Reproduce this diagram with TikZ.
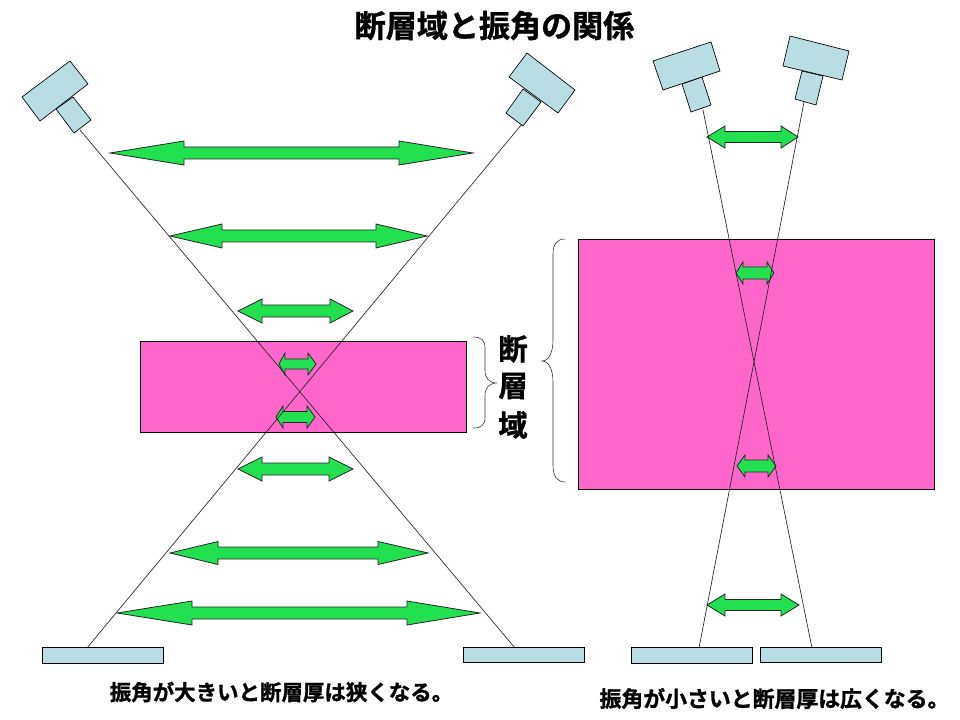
\documentclass[tikz,border=0pt]{standalone}
\usepackage{fontspec}
\newfontfamily\cjk{Noto Sans CJK JP}[BoldFont={Noto Sans CJK JP Bold},BoldFeatures={FakeBold=1.2}]
\definecolor{camblue}{RGB}{184,222,228}
\definecolor{faultpink}{RGB}{255,102,204}
\definecolor{arrowgreen}{RGB}{34,224,80}
\tikzset{
  cam/.style={draw=black,fill=camblue,line width=0.5pt},
  fault/.style={draw=black,fill=faultpink,line width=0.6pt},
  beam/.style={draw=black!85,line width=0.5pt},
  measure/.style={draw=black!85,fill=arrowgreen,line width=0.6pt,line join=miter},
  bracecurve/.style={draw=black!80,line width=0.45pt},
  caption/.style={font=\cjk\bfseries,inner sep=0pt,text=black},
}
% name, tip L, tip R, y, base L, base R, head half, shaft half
\newcommand{\dblarrow}[8]{%
  \draw[measure] (#2,#4) -- (#5,#4-#7) -- (#5,#4-#8) -- (#6,#4-#8) -- (#6,#4-#7)
    -- (#3,#4) -- (#6,#4+#7) -- (#6,#4+#8) -- (#5,#4+#8) -- (#5,#4+#7) -- cycle;
  \coordinate (#1) at ({(#2+#3)/2},#4);}
\begin{document}
\begin{tikzpicture}[x=0.75pt,y=-0.75pt]
\useasboundingbox (0,0) rectangle (960,720);
% fault zones
\draw[fault] (140,341) rectangle (466,432);
\draw[fault] (578,239) rectangle (934,489);
% endpoints of the beams
\coordinate (la) at (80,130);
\coordinate (lb) at (515,648);
\coordinate (ra) at (522,124);
\coordinate (rb) at (87,648);
\coordinate (na) at (703,110);
\coordinate (nb) at (812,648);
\coordinate (ma) at (804,102);
\coordinate (mb) at (699,648);
% arrows
\dblarrow{a1}{110}{473}{153}{184}{399}{12}{6}
\dblarrow{a2}{170}{427}{236}{222}{376}{12}{6}
\dblarrow{a3}{238}{353}{311}{262}{330}{12}{6}
\dblarrow{a4}{279}{316}{364}{285}{308}{11}{5}
\dblarrow{a5}{276}{315}{417}{283}{307}{11}{5.5}
\dblarrow{a6}{238}{353}{469}{262}{329}{12}{6}
\dblarrow{a7}{170}{428}{553}{218}{378}{11.5}{6}
\dblarrow{a8}{117}{480}{613}{192}{407}{12}{6}
\dblarrow{b1}{707}{798}{137}{725}{781}{11}{5.5}
\dblarrow{b2}{736}{774}{273}{743}{767}{11}{6}
\dblarrow{b3}{737}{776}{466}{745}{768}{11}{6}
\dblarrow{b4}{707}{799}{605}{725}{781}{11}{5.5}
% beams
\draw[beam] (la) -- (lb);
\draw[beam] (ra) -- (rb);
\draw[beam] (na) -- (nb);
\draw[beam] (ma) -- (mb);
% cameras
\draw[cam] (56,109) -- (73,97) -- (91,120) -- (74,133) -- cycle;
\draw[cam] (22,97) -- (70,61) -- (88,84) -- (40,121) -- cycle;
\draw[cam] (523,89) -- (541,102) -- (523,126) -- (506,113) -- cycle;
\draw[cam] (509,77) -- (527,53) -- (575,90) -- (558,113) -- cycle;
\draw[cam] (682,84) -- (702,77) -- (711,105) -- (691,112) -- cycle;
\draw[cam] (653,61) -- (711,42) -- (720,71) -- (663,90) -- cycle;
\draw[cam] (802,71) -- (823,76) -- (816,105) -- (795,99) -- cycle;
\draw[cam] (790,36) -- (849,51) -- (842,80) -- (783,66) -- cycle;
% detector bars
\draw[cam] (42,647) rectangle (163,663);
\draw[cam] (463,647) rectangle (584,662);
\draw[cam] (631,647) rectangle (752,663);
\draw[cam] (760,647) rectangle (881,662);
% braces
\draw[bracecurve] (473,337) .. controls (481,337) and (485,340) .. (485,348) -- (485,370)
  .. controls (485,378) and (489,383) .. (497,383)
  .. controls (489,383) and (485,388) .. (485,396) -- (485,418)
  .. controls (485,425) and (481,428) .. (473,428);
\draw[bracecurve] (565,239) .. controls (557,239) and (553,244) .. (553,254) -- (553,340)
  .. controls (553,352) and (549,361) .. (542,361)
  .. controls (549,361) and (553,370) .. (553,382) -- (553,465)
  .. controls (553,476) and (557,482) .. (565,482);
% texts
\node[caption,font=\cjk\bfseries\fontsize{23.3}{23.3}\selectfont] (title) at (494.5,25.5) {断層域と振角の関係};
\node[caption,font=\cjk\bfseries\fontsize{22}{22}\selectfont] (t1) at (513,349) {断};
\node[caption,font=\cjk\bfseries\fontsize{22}{22}\selectfont] (t2) at (513,386) {層};
\node[caption,font=\cjk\bfseries\fontsize{22}{22}\selectfont] (t3) at (513,425) {域};
\node[caption,font=\cjk\bfseries\fontsize{16.1}{16.1}\selectfont] (capl) at (281.5,692) {振角が大きいと断層厚は狭くなる。};
\node[caption,font=\cjk\bfseries\fontsize{16.4}{16.4}\selectfont] (capr) at (774.5,698.5) {振角が小さいと断層厚は広くなる。};
\end{tikzpicture}
\end{document}
